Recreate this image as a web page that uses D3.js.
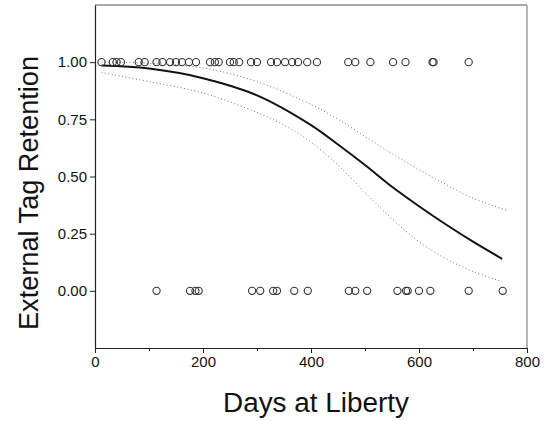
<!DOCTYPE html>
<html><head><meta charset="utf-8">
<script src="https://cdn.jsdelivr.net/npm/d3@7"></script>
<style>body{margin:0;background:#fff}svg{display:block}text{font-family:"Liberation Sans",Arial,sans-serif;fill:#111}</style>
</head><body><svg id="c" width="547" height="421"></svg>
<script>
// Observed tags: days at liberty where tag retained (1) / lost (0)
const retainedDays = [12,33,40,48,81,92,114,125,139,150,161,174,187,213,222,229,250,257,267,289,300,326,337,352,365,376,393,411,469,482,510,552,575,625,627,692];
const lostDays = [114,176,186,192,291,306,330,337,369,394,470,482,504,560,576,579,600,621,692,755];
// Fitted retention curve
const fitDays = [12,100,200,300,400,450,500,550,600,650,700,754];
const fitVals = [0.985,0.972,0.93,0.855,0.725,0.64,0.55,0.455,0.37,0.29,0.215,0.14];
// Upper confidence limit
const upDays = [12,100,200,300,400,450,500,550,600,650,700,766];
const upVals = [1.0,0.995,0.975,0.915,0.815,0.75,0.675,0.60,0.53,0.465,0.405,0.35];
// Lower confidence limit
const loDays = [12,100,200,300,350,400,450,500,550,600,650,700,754];
const loVals = [0.955,0.915,0.865,0.78,0.725,0.65,0.55,0.43,0.315,0.215,0.14,0.085,0.04];
const xTicks = [0,200,400,600,800];
const xMinor = [100,300,500,700];
const yTicks = [0,0.25,0.5,0.75,1.0];

const svg = d3.select("#c");
const x = d3.scaleLinear().domain([0,800]).range([95,527]);
const y = d3.scaleLinear().domain([-0.25,1.25]).range([348,5]);

// frame
svg.append("line").attr("x1",95).attr("x2",527).attr("y1",5).attr("y2",5).attr("stroke","#555").attr("stroke-width",1);
svg.append("line").attr("x1",527).attr("x2",527).attr("y1",5).attr("y2",348).attr("stroke","#888").attr("stroke-width",1.2);

const xa = svg.append("g").attr("transform","translate(0,348)")
  .call(d3.axisBottom(x).tickValues(xTicks).tickFormat(d3.format("d")).tickSize(5).tickSizeOuter(0));
svg.append("g").attr("transform","translate(0,348)")
  .call(d3.axisBottom(x).tickValues(xMinor).tickFormat("").tickSize(3).tickSizeOuter(0))
  .select(".domain").remove();
const ya = svg.append("g").attr("transform","translate(95,0)")
  .call(d3.axisLeft(y).tickValues(yTicks).tickFormat(d3.format(".2f")).tickSize(5).tickSizeOuter(0));
svg.selectAll(".domain").attr("stroke","#222").attr("stroke-width",1.2);
svg.selectAll(".tick line").attr("stroke","#222");
xa.selectAll("text").attr("font-size",15).attr("dy","0.75em").attr("y",8);
ya.selectAll("text").attr("font-size",15).attr("x",-8);
svg.selectAll(".tick text").style("font-family","'Liberation Sans',Arial,sans-serif").attr("fill","#111");

const line = d3.line().x(d=>x(d[0])).y(d=>y(d[1])).curve(d3.curveCatmullRom.alpha(0.5));
svg.append("path").attr("d",line(upDays.map((d,i)=>[d,upVals[i]])))
  .attr("fill","none").attr("stroke","#777").attr("stroke-width",1).attr("stroke-dasharray","1,2.5");
svg.append("path").attr("d",line(loDays.map((d,i)=>[d,loVals[i]])))
  .attr("fill","none").attr("stroke","#777").attr("stroke-width",1).attr("stroke-dasharray","1,2.5");
svg.append("path").attr("d",line(fitDays.map((d,i)=>[d,fitVals[i]])))
  .attr("fill","none").attr("stroke","#111").attr("stroke-width",2);

const pts = retainedDays.map(d=>[d,1]).concat(lostDays.map(d=>[d,0]));
svg.append("g").selectAll("circle").data(pts).join("circle")
  .attr("cx",d=>x(d[0])).attr("cy",d=>y(d[1])).attr("r",3.6)
  .attr("fill","none").attr("stroke","#333").attr("stroke-width",1.1);

svg.append("text").attr("x",316).attr("y",412).attr("text-anchor","middle").attr("font-size",27)
  .attr("textLength",186).attr("lengthAdjust","spacingAndGlyphs").text("Days at Liberty");
svg.append("text").attr("transform","translate(38,193) rotate(-90)").attr("text-anchor","middle").attr("font-size",27)
  .attr("textLength",274).attr("lengthAdjust","spacingAndGlyphs").text("External Tag Retention");
</script></body></html>
